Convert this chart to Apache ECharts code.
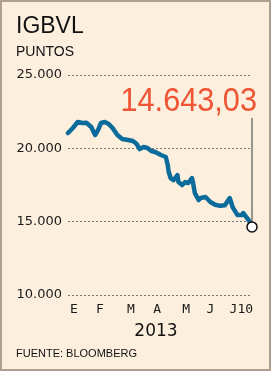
<!DOCTYPE html>
<html>
<head>
<meta charset="utf-8">
<script src="https://cdn.jsdelivr.net/npm/echarts@6/dist/echarts.min.js"></script>
<style>
	html, body { margin: 0; padding: 0; background: #fcefdd; }
	#chart { width: 271px; height: 371px; }
</style>
</head>
<body>
<div id="chart"></div>
<script>
	//IGBVL 2013, dia del año y puntos
	var days = [1, 6, 11, 16, 20, 25, 29, 32, 35, 39, 43, 47, 52, 57, 63, 68, 72, 75, 79, 83, 87, 91, 97, 102, 104, 105, 107, 110, 114, 115, 119, 122, 125, 129, 130, 132, 136, 138, 143, 148, 153, 158, 163, 168, 171, 176, 181, 182, 186, 189, 191];
	var values = [21044, 21385, 21794, 21726, 21740, 21453, 20907, 21248, 21726, 21794, 21658, 21385, 20907, 20634, 20566, 20498, 20293, 19952, 20089, 20020, 19816, 19748, 19543, 19407, 18861, 18384, 17974, 17838, 18179, 17701, 17497, 17701, 17633, 17974, 17701, 16951, 16473, 16610, 16678, 16337, 16150, 16080, 16120, 16610, 15996, 15450, 15450, 15587, 15246, 14973, 14643.03];
	//etiquetas
	var monthDays = [7, 34, 66, 93, 123, 148, 180];
	var monthLabels = ['E', 'F', 'M', 'A', 'M', 'J', 'J10'];
	var yTicks = [10000, 15000, 20000, 25000];

	var fmtMiles = function(v) {
		return String(Math.round(v)).replace(/\B(?=(\d{3})+(?!\d))/g, '.');
	}
	var fmtValor = function(v) {
		var p = v.toFixed(2).split('.');
		return fmtMiles(Number(p[0])) + ',' + p[1];
	}

	var lastDay = days[days.length - 1];
	var lastVal = values[values.length - 1];

	var seriesData = [];
	for(var i = 0; i < days.length; i++) {
		seriesData.push([days[i], values[i]]);
	}

	var myChart = echarts.init(document.getElementById('chart'));

	var option = {
		backgroundColor: '#fcefdd',
		animation: false,
		grid: { left: 68, right: 19, top: 75, bottom: 76 },
		xAxis: {
			type: 'value',
			min: days[0],
			max: lastDay,
			axisLine: { show: false },
			axisTick: { show: false },
			splitLine: { show: false },
			axisLabel: {
				customValues: monthDays,
				formatter: function(v) {
					return monthLabels[monthDays.indexOf(v)];
				},
				margin: 8,
				color: '#1a1a1a',
				fontSize: 13,
				fontFamily: 'DejaVu Sans Mono'
			}
		},
		yAxis: {
			type: 'value',
			min: yTicks[0],
			max: yTicks[yTicks.length - 1],
			interval: 5000,
			axisLine: { show: false },
			axisTick: { show: false },
			axisLabel: {
				margin: 6,
				color: '#1a1a1a',
				fontSize: 13,
				fontFamily: 'DejaVu Sans',
				formatter: fmtMiles
			},
			splitLine: {
				lineStyle: { color: '#777777', width: 1, type: [2, 2] }
			}
		},
		graphic: [
			{ type: 'rect', shape: { x: 1, y: 1, width: 269, height: 369 }, style: { fill: 'none', stroke: '#ae9f8e', lineWidth: 2 } },
			{ type: 'text', left: 16, top: 15, style: { text: 'IGBVL', fill: '#111', font: '23px "Liberation Sans"' } },
			{ type: 'text', left: 16, top: 45, style: { text: 'PUNTOS', fill: '#111', font: '14px "Liberation Sans"' } },
			{ type: 'text', x: 257, y: 85, scaleX: 0.93, style: { text: fmtValor(lastVal), fill: '#ef5435', font: '33px "Liberation Sans"', align: 'right', verticalAlign: 'top' } },
			{ type: 'text', x: 156, y: 323, style: { text: '2013', fill: '#111', font: '17px "DejaVu Sans"', align: 'center', verticalAlign: 'top' } },
			{ type: 'text', x: 16, y: 348, style: { text: 'FUENTE: BLOOMBERG', fill: '#111', font: '11px "Liberation Sans"', verticalAlign: 'top' } }
		],
		series: [{
			type: 'line',
			data: seriesData,
			showSymbol: false,
			z: 3,
			lineStyle: { color: '#0b6b9b', width: 4.5, cap: 'round', join: 'round' },
			markLine: {
				silent: true,
				symbol: 'none',
				label: { show: false },
				lineStyle: { color: '#777777', width: 1.5, type: 'solid' },
				data: [[{ coord: [lastDay, 22070] }, { coord: [lastDay, lastVal] }]]
			},
			markPoint: {
				silent: true,
				symbol: 'circle',
				symbolSize: 10,
				label: { show: false },
				itemStyle: { color: '#ffffff', borderColor: '#111111', borderWidth: 1.5 },
				data: [{ coord: [lastDay, lastVal] }]
			}
		}]
	};
	myChart.setOption(option);
</script>
</body>
</html>
